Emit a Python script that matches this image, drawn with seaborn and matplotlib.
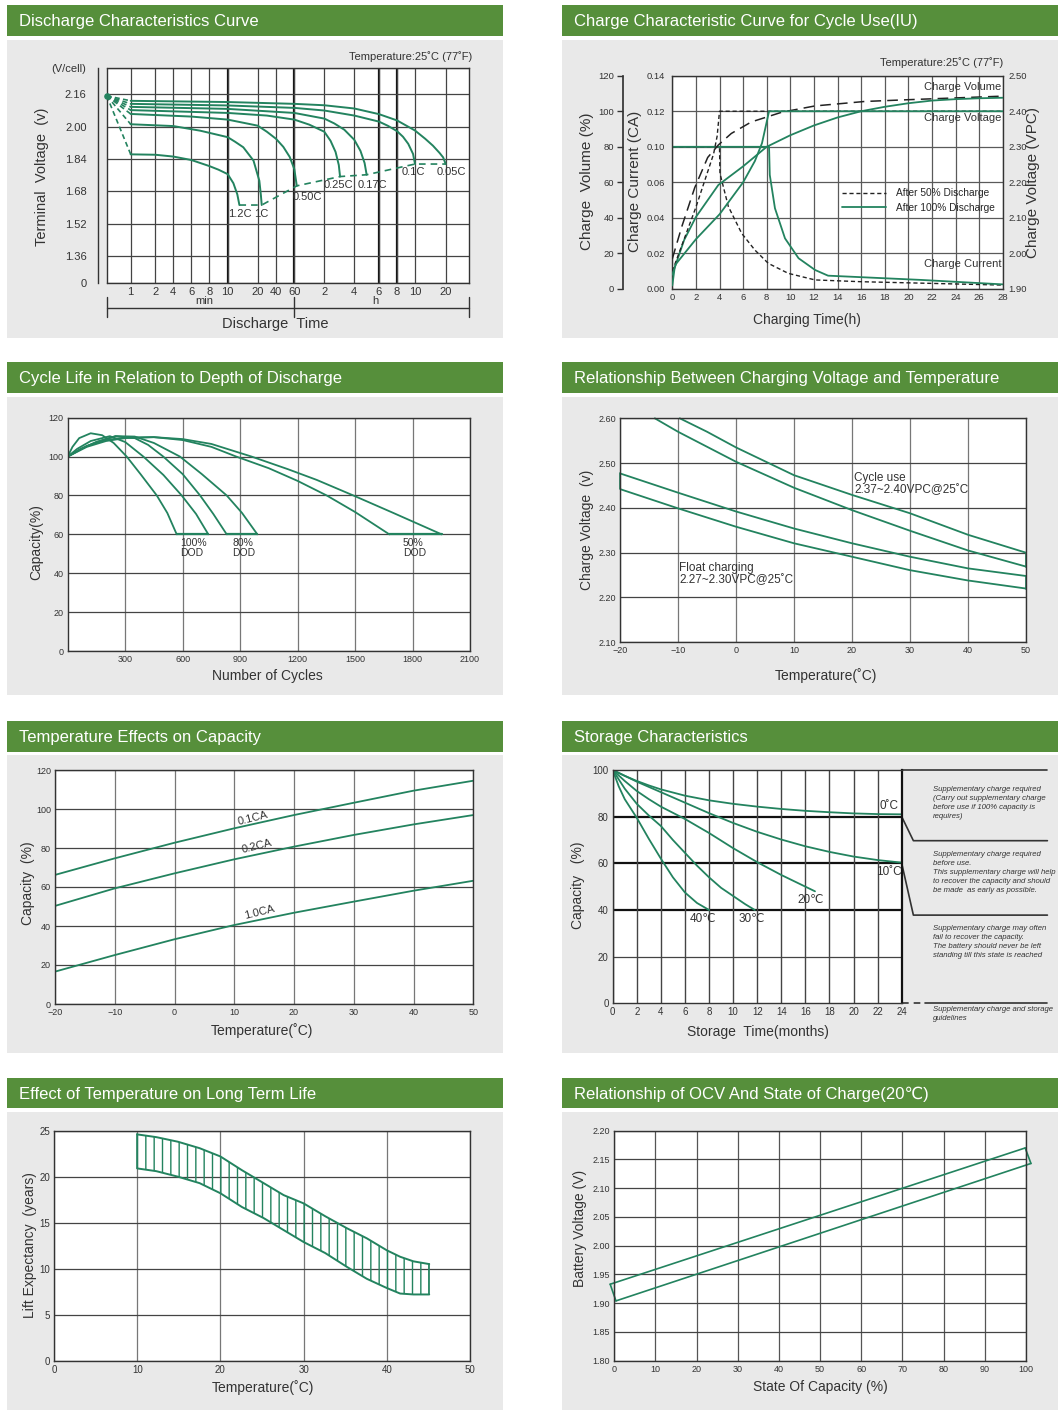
import numpy as np
import matplotlib
matplotlib.use("Agg")
import matplotlib.pyplot as plt
from matplotlib.lines import Line2D
from matplotlib.patches import Rectangle
import seaborn as sns

sns.set_theme(style="white")
plt.rcParams["font.family"] = ["Liberation Sans", "DejaVu Sans"]
plt.rcParams["hatch.linewidth"] = 1.0

GREEN = "#23835f"
HEAD = "#568f3b"
PANEL = "#e9e9e9"
GRID = "#444444"
TXT = "#333333"

W, H = 1060, 1418

# ---------------- data ----------------
# 1. discharge curves: time (min), voltage (V/cell)
t_005 = [1, 10, 60, 120, 240, 360, 480, 600, 800, 950, 1080, 1150, 1200]
v_005 = [2.128, 2.122, 2.113, 2.106, 2.09, 2.062, 2.031, 1.981, 1.94, 1.906, 1.87, 1.848, 1.815]
t_01 = [1, 10, 60, 120, 240, 360, 420, 480, 520, 555, 587, 600]
v_01 = [2.113, 2.105, 2.093, 2.08, 2.055, 2.025, 2.004, 1.978, 1.95, 1.915, 1.865, 1.815]
t_017 = [1, 10, 60, 120, 160, 200, 240, 270, 290, 300]
v_017 = [2.098, 2.088, 2.068, 2.04, 2.016, 1.985, 1.935, 1.88, 1.82, 1.762]
t_025 = [1, 10, 30, 60, 90, 120, 145, 165, 178, 183]
v_025 = [2.082, 2.068, 2.055, 2.035, 2.01, 1.975, 1.93, 1.875, 1.81, 1.753]
t_050 = [1, 6, 10, 20, 30, 40, 48, 55, 60, 65]
v_050 = [2.063, 2.05, 2.035, 2.005, 1.975, 1.94, 1.9, 1.85, 1.79, 1.707]
t_1c = [1, 4, 7, 10, 12.5, 15.2, 18.6, 21.8, 23.5, 24.4]
v_1c = [2.012, 2.003, 1.98, 1.948, 1.925, 1.898, 1.832, 1.732, 1.66, 1.612]
t_12c = [1, 2, 4, 6, 8, 9, 10, 11.9, 13.2, 13.9]
v_12c = [1.863, 1.861, 1.852, 1.835, 1.805, 1.787, 1.765, 1.72, 1.665, 1.612]
dis_rates = ["0.05C", "0.1C", "0.17C", "0.25C", "0.50C", "1C", "1.2C"]
dis_end_t = [13.9, 24.4, 65, 183, 300, 600, 1200]
dis_end_v = [1.612, 1.612, 1.707, 1.753, 1.762, 1.815, 1.815]
dis_origin = (0, 2.153)
dis_label_t = [1335, 587, 326, 175, 87, 24.4, 14]
dis_label_v = [1.776, 1.776, 1.711, 1.711, 1.651, 1.566, 1.566]
dis_ticks = [1, 2, 4, 6, 8, 10, 20, 40, 60, 120, 240, 360, 480, 600, 1200]
dis_ticklabels = ["1", "2", "4", "6", "8", "10", "20", "40", "60", "2", "4", "6", "8", "10", "20"]
dis_vticks = [1.226, 1.36, 1.52, 1.68, 1.84, 2.00, 2.16, 2.289]
dis_vlabels = ["0", "1.36", "1.52", "1.68", "1.84", "2.00", "2.16", "(V/cell)"]

# 2. charge characteristics (h; volume %, voltage VPC, current CA)
vol50_t = [0, 0.8, 1.9, 3.0, 3.9, 5.0, 6.7, 9.3, 12.1, 16.3, 20, 24, 28]
vol50 = [17, 35, 57, 74, 81, 87.5, 94, 99.5, 103, 105.5, 106.5, 107.5, 108.5]
vol100_t = [0, 0.2, 1, 2, 3.9, 6, 8, 10, 12, 14, 16, 18, 20, 22, 24, 26, 28]
vol100 = [2, 12, 27.5, 40.5, 58.5, 69, 80, 86.5, 92, 96.5, 100, 102.5, 104.5, 106, 106.8, 107.3, 107.6]
volt50_t = [0, 1, 2, 3, 3.5, 3.8, 4.0, 28]
volt50 = [1.95, 2.04, 2.13, 2.23, 2.28, 2.33, 2.40, 2.40]
volt100_t = [0, 0.3, 2, 4, 6, 7, 7.6, 8.2, 28]
volt100 = [1.94, 1.97, 2.04, 2.11, 2.20, 2.26, 2.31, 2.40, 2.40]
cur50_t = [0, 4, 4.04, 4.75, 5.88, 7, 8.14, 9.83, 12.1, 16, 28]
cur50 = [0.10, 0.10, 0.07, 0.0464, 0.0313, 0.0219, 0.0144, 0.0088, 0.0051, 0.0041, 0.0022]
cur100_t = [0, 8.2, 8.26, 8.7, 9.55, 10.7, 12.1, 13.2, 21.1, 28]
cur100 = [0.10, 0.10, 0.0684, 0.0454, 0.0285, 0.0173, 0.0107, 0.0075, 0.0051, 0.0026]
cur_ticks = [0, 0.02, 0.04, 0.06, 0.10, 0.12, 0.14]   # as printed (0.08 is skipped)
cur_labels = ["0.00", "0.02", "0.04", "0.06", "0.10", "0.12", "0.14"]

# 3. cycle life vs DOD (cycles, capacity %)
n100a = [0, 25, 60, 120, 180, 240, 308, 380, 465, 520, 569]
c100a = [100, 105, 109.5, 112, 111, 107, 100, 91, 80, 71, 60]
n100b = [0, 50, 120, 220, 300, 395, 500, 595, 670, 734]
c100b = [100, 104, 108, 110.5, 107.5, 100, 90.5, 80, 70.5, 60]
n80a = [0, 70, 150, 250, 350, 420, 499, 600, 691, 760, 830]
c80a = [100, 104, 107.5, 110.5, 109.5, 106, 100, 91, 80, 70.5, 60]
n80b = [0, 70, 150, 250, 350, 450, 586, 700, 830, 910, 990]
c80b = [100, 104, 107.5, 110.5, 110.3, 107, 100, 91, 80, 71, 60]
n50a = [0, 100, 200, 300, 450, 600, 750, 880, 1050, 1200, 1352, 1500, 1679]
c50a = [100, 105.5, 108.5, 109.8, 110, 108.5, 105, 100, 94, 87.5, 80, 71.5, 60]
n50b = [0, 100, 200, 300, 450, 600, 750, 960, 1150, 1300, 1491, 1700, 1952]
c50b = [100, 105, 108, 109.5, 110, 109, 106.5, 100, 93.5, 88, 80, 71, 60]
dod_labels = ["100%\nDOD", "80%\nDOD", "50%\nDOD"]
dod_label_n = [585, 858, 1749]

# 4. charging voltage vs temperature
cyc_up_t = [-9.7, -5, 0, 10, 20, 30, 40, 50]
cyc_up_v = [2.60, 2.570, 2.535, 2.473, 2.429, 2.388, 2.34, 2.30]
cyc_lo_t = [-14, -10, 0, 10, 20, 30, 40, 50]
cyc_lo_v = [2.60, 2.57, 2.503, 2.445, 2.395, 2.349, 2.305, 2.269]
flo_t = [-20, -10, 0, 10, 20, 30, 40, 50]
flo_up_v = [2.477, 2.434, 2.392, 2.354, 2.321, 2.291, 2.265, 2.248]
flo_lo_v = [2.442, 2.399, 2.358, 2.321, 2.291, 2.261, 2.238, 2.22]

# 5. temperature effects on capacity
tc_t = [-20, -10, 0, 10, 20, 30, 40, 50]
cap_01 = [66.2, 74.7, 82.7, 90.1, 96.9, 103.2, 109.4, 114.5]
cap_02 = [50.3, 59.3, 67.0, 74.2, 80.7, 86.7, 92.1, 96.9]
cap_10 = [16.6, 25.1, 33.2, 40.5, 46.8, 52.5, 58.1, 63.2]
rate_labels = ["0.1CA", "0.2CA", "1.0CA"]
rate_label_t = [13.1, 13.85, 14.2]
rate_label_c = [95.2, 80.7, 46.8]

# 6. storage characteristics (months, capacity %)
s0_t = [0, 1, 2, 3, 4, 6, 8, 10, 12, 14, 16, 18, 20, 22, 24]
s0_c = [100, 97.5, 95.3, 93.4, 91.7, 89, 87, 85.5, 84.3, 83.3, 82.5, 81.9, 81.4, 81.1, 81]
s10_t = [0, 2, 4, 6, 8, 10, 12, 14, 16, 18, 20, 22, 24]
s10_c = [100, 95, 90.5, 86, 81.5, 77.3, 73.5, 70.2, 67.3, 64.9, 62.9, 61.4, 60.3]
s20_t = [0, 1, 2, 3, 4, 6, 8, 10, 12, 14, 16, 16.8]
s20_c = [100, 95.3, 91, 87.5, 84.3, 79, 73, 66.5, 60.5, 55, 50, 48]
s30_t = [0, 1, 2, 3, 4, 5, 6, 7, 8, 9, 10, 11, 11.8]
s30_c = [100, 92, 85.5, 80.5, 76, 70, 64.5, 59, 54, 49.5, 46, 42.5, 40]
s40_t = [0, 0.5, 1, 2, 3, 4, 5, 6, 7, 8]
s40_c = [100, 93, 87.5, 79.5, 70.5, 62, 54, 47.5, 43, 40]
st_labels = ["0˚C", "10˚C", "20℃", "30℃", "40℃"]
st_label_t = [22.97, 22.9, 16.47, 11.55, 7.52]
st_label_c = [84.6, 56.4, 44.3, 36.1, 36.1]
guide_texts = [
    "Supplementary charge required\n(Carry out supplementary charge\nbefore use if 100% capacity is\nrequires)",
    "Supplementary charge required\nbefore use.\nThis supplementary charge will help\nto recover the capacity and should\nbe made  as early as possible.",
    "Supplementary charge may often\nfail to recover the capacity.\nThe battery should never be left\nstanding till this state is reached",
    "Supplementary charge and storage\nguidelines",
]

# 7. long term life (deg C, years)
life_t = [10, 12.3, 14.9, 17.5, 20, 22.6, 25.2, 27.6, 30, 32.6, 35.2, 37.6, 40, 41.6, 43.2, 45.1]
life_hi = [24.6, 24.3, 23.8, 23.1, 22.2, 20.7, 19.3, 18, 17.1, 15.7, 14.4, 13.3, 12, 11.3, 10.8, 10.5]
life_lo = [20.9, 20.6, 20, 19.3, 18.2, 16.7, 15.5, 14.2, 12.9, 11.7, 10.2, 8.9, 7.9, 7.3, 7.2, 7.2]

# 8. OCV vs state of charge
ocv_hi_x = [-1, 99.8]
ocv_hi_v = [1.933, 2.170]
ocv_lo_x = [0.4, 101.2]
ocv_lo_v = [1.904, 2.143]

# ---------------- helpers ----------------
fig = plt.figure(figsize=(W / 100, H / 100), dpi=100)
fig.patch.set_facecolor("white")


def add_ax(l, t, r, b):
    return fig.add_axes([l / W, 1 - b / H, (r - l) / W, (b - t) / H])


def ftext(x, y, s, **kw):
    kw.setdefault("color", TXT)
    fig.text(x / W, 1 - y / H, s, **kw)


def curve(ax, x, y, color=GREEN, lw=1.3, dashes=None, **kw):
    sns.lineplot(x=x, y=y, ax=ax, color=color, linewidth=lw, sort=False,
                 estimator=None, legend=False, **kw)
    if dashes:
        ax.lines[-1].set_dashes(dashes)


def style(ax, size=6.5, grid=True):
    ax.set_facecolor("white")
    for s in ax.spines.values():
        s.set_color("#333333")
        s.set_linewidth(1.0)
    ax.tick_params(length=0, labelsize=size, colors=TXT, pad=3)
    if grid:
        ax.grid(True, color=GRID, lw=0.9)
        ax.set_axisbelow(True)


# panel backgrounds and headers
ROWS = [(5, 36, 40, 338), (362, 393, 397, 695), (721, 752, 755, 1053), (1078, 1108, 1112, 1410)]
COLS = [(7, 503), (562, 1058)]
TITLES = [["Discharge Characteristics Curve", "Charge Characteristic Curve for Cycle Use(IU)"],
          ["Cycle Life in Relation to Depth of Discharge", "Relationship Between Charging Voltage and Temperature"],
          ["Temperature Effects on Capacity", "Storage Characteristics"],
          ["Effect of Temperature on Long Term Life", "Relationship of OCV And State of Charge(20℃)"]]
for i, (ht, hb, pt, pb) in enumerate(ROWS):
    for j, (cl, cr) in enumerate(COLS):
        fig.add_artist(Rectangle((cl / W, 1 - hb / H), (cr - cl) / W, (hb - ht) / H,
                                 transform=fig.transFigure, facecolor=HEAD, edgecolor="none", zorder=-10))
        fig.add_artist(Rectangle((cl / W, 1 - pb / H), (cr - cl) / W, (pb - pt) / H,
                                 transform=fig.transFigure, facecolor=PANEL, edgecolor="none", zorder=-10))
        ftext(cl + 12, (ht + hb) / 2 + 1, TITLES[i][j], color="white", fontsize=12, va="center")

# ---------------- 1. discharge ----------------
SCALE_MIN = [0, 1, 2, 4, 6, 8, 10, 20, 40, 60, 120, 240, 360, 480, 600, 1200, 1800]
SCALE_PX = [0, 24, 48.6, 66.6, 84.6, 102.6, 121, 151, 169.3, 187.6, 217.6, 247.6, 272.3, 290.3, 308.3, 339, 362.6]
ax1 = add_ax(106.7, 68.3, 469.3, 283)
ax1.set_xscale("function", functions=(lambda x: np.interp(x, SCALE_MIN, SCALE_PX),
                                      lambda p: np.interp(p, SCALE_PX, SCALE_MIN)))
style(ax1, size=8)
curves1 = [(t_005, v_005), (t_01, v_01), (t_017, v_017), (t_025, v_025),
           (t_050, v_050), (t_1c, v_1c), (t_12c, v_12c)]
for t, v in curves1:
    curve(ax1, t, v, lw=1.4)
    curve(ax1, [dis_origin[0], t[0]], [dis_origin[1], v[0]], lw=1.2, dashes=(3, 2))
curve(ax1, dis_end_t, dis_end_v, lw=1.2, dashes=(4, 3))
ax1.scatter([dis_origin[0]], [dis_origin[1]], s=14, color=GREEN, zorder=5, clip_on=False)
for lab, lt, lv in zip(dis_rates, dis_label_t, dis_label_v):
    ax1.text(lt, lv, lab, fontsize=8, ha="center", va="center", color=TXT)
for tk in [10, 60, 360, 480]:
    ax1.axvline(tk, color="#111111", lw=1.6, zorder=0.5)
ax1.axvline(0, color="#333333", lw=1.0, clip_on=False)
ax1.set_xticks(dis_ticks, dis_ticklabels)
ax1.set_yticks(dis_vticks, dis_vlabels)
ax1.set_xlim(0, 1800)
ax1.set_ylim(1.226, 2.289)
ax1.spines["left"].set_position(("outward", 6.5))
ax1.tick_params(axis="y", length=6, width=1, color="#333333", pad=2)
trans = ax1.get_xaxis_transform()
ax1.plot([0, 1800], [-0.116, -0.116], color="#333333", lw=1, transform=trans, clip_on=False)
for xb in [0, 60, 1800]:
    ax1.plot([xb, xb], [-0.065, -0.158], color="#333333", lw=1, transform=trans, clip_on=False)
ftext(204, 301, "min", fontsize=8, ha="center", va="center")
ftext(375, 301, "h", fontsize=8, ha="center", va="center")
ftext(275, 324, "Discharge  Time", fontsize=10.5, ha="center", va="center")
ftext(42, 177, "Terminal  Voltage  (v)", fontsize=10.5, ha="center", va="center", rotation=90)
ftext(472, 57, "Temperature:25˚C (77˚F)", fontsize=8, ha="right", va="center")

# ---------------- 2. charge characteristics ----------------
ax2 = add_ax(672.3, 75.7, 1002.7, 289)
ax2.set_yscale("function", functions=(lambda y: np.interp(y, cur_ticks, range(7)),
                                      lambda g: np.interp(g, range(7), cur_ticks)))
style(ax2, size=6.8)
ax2.grid(True, color="#5a5a5a", lw=0.9)
axv = ax2.twinx()
axr = ax2.twinx()
for a in (axv, axr):
    for s in a.spines.values():
        s.set_visible(False)
curve(ax2, cur50_t, cur50, color="#222222", lw=1.0, dashes=(3, 2))
curve(ax2, cur100_t, cur100, lw=1.3)
curve(axv, vol50_t, vol50, color="#222222", lw=1.1, dashes=(7, 4))
curve(axv, vol100_t, vol100, lw=1.3)
curve(axr, volt50_t, volt50, color="#222222", lw=1.0, dashes=(3, 2))
curve(axr, volt100_t, volt100, lw=1.3)
ax2.set_xlim(0, 28)
ax2.set_ylim(0, 0.14)
ax2.set_xticks(range(0, 29, 2))
ax2.set_yticks(cur_ticks, cur_labels)
ax2.tick_params(axis="y", pad=5)
axv.set_ylim(0, 120)
axv.set_yticks(range(0, 121, 20))
axv.yaxis.set_ticks_position("left")
axv.spines["left"].set_visible(True)
axv.spines["left"].set_color("#333333")
axv.spines["left"].set_position(("outward", 35.5))
axv.tick_params(axis="y", length=4.5, width=1, color="#333333", labelsize=6.8, colors=TXT, pad=2)
axr.set_ylim(1.9, 2.5)
axr.set_yticks([1.9, 2.0, 2.1, 2.2, 2.3, 2.4, 2.5], ["1.90", "2.00", "2.10", "2.20", "2.30", "2.40", "2.50"])
axr.tick_params(axis="y", length=0, labelsize=6.8, colors=TXT, pad=4)
handles = [Line2D([], [], color="#222222", lw=1.0, dashes=(3, 2)), Line2D([], [], color=GREEN, lw=1.3)]
axr.legend(handles, ["After 50% Discharge", "After 100% Discharge"], loc="upper left",
           bbox_to_anchor=(0.515, 0.472), frameon=False, fontsize=7.3, handlelength=4.3,
           borderpad=0, borderaxespad=0, labelspacing=0.45, handletextpad=1.0)
ftext(1003, 62.3, "Temperature:25˚C (77˚F)", fontsize=8, ha="right", va="center")
ftext(1001, 86.7, "Charge Volume", fontsize=8, ha="right", va="center")
ftext(1001, 118.3, "Charge Voltage", fontsize=8, ha="right", va="center")
ftext(1001, 264, "Charge Current", fontsize=8, ha="right", va="center")
ftext(586.7, 181, "Charge  Volume (%)", fontsize=11, ha="center", va="center", rotation=90)
ftext(635, 181, "Charge Current (CA)", fontsize=11, ha="center", va="center", rotation=90)
ftext(1033, 182, "Charge Voltage (VPC)", fontsize=11, ha="center", va="center", rotation=90)
ftext(806.7, 320, "Charging Time(h)", fontsize=10, ha="center", va="center")

# ---------------- 3. cycle life ----------------
ax3 = add_ax(67.7, 417.7, 470, 651)
style(ax3)
ax3.xaxis.grid(True, color="#777777", lw=0.9)
for n, c in [(n100a, c100a), (n100b, c100b), (n80a, c80a), (n80b, c80b), (n50a, c50a), (n50b, c50b)]:
    curve(ax3, n, c, lw=1.3)
for n0, n1 in [(n100a[-1], n100b[-1]), (n80a[-1], n80b[-1]), (n50a[-1], n50b[-1])]:
    curve(ax3, [n0, n1], [60, 60], lw=1.6)
for lab, ln in zip(dod_labels, dod_label_n):
    ax3.text(ln, 53, lab, fontsize=7.5, ha="left", va="center", color=TXT, linespacing=1.1)
ax3.set_xlim(0, 2100)
ax3.set_ylim(0, 120)
ax3.set_xticks(range(300, 2101, 300))
ax3.set_yticks(range(0, 121, 20))
ftext(36.7, 541.7, "Capacity(%)", fontsize=10, ha="center", va="center", rotation=90)
ftext(267.7, 676, "Number of Cycles", fontsize=10, ha="center", va="center")

# ---------------- 4. charging voltage vs temperature ----------------
ax4 = add_ax(620, 418.3, 1026, 642.3)
style(ax4)
ax4.xaxis.grid(True, color="#777777", lw=0.9)
curve(ax4, cyc_up_t, cyc_up_v, lw=1.3, clip_on=False)
curve(ax4, cyc_lo_t, cyc_lo_v, lw=1.3, clip_on=False)
curve(ax4, flo_t, flo_up_v, lw=1.3)
curve(ax4, flo_t, flo_lo_v, lw=1.3)
curve(ax4, [50, 50], [cyc_up_v[-1], cyc_lo_v[-1]], lw=1.2, clip_on=False)
curve(ax4, [50, 50], [flo_up_v[-1], flo_lo_v[-1]], lw=1.2, clip_on=False)
curve(ax4, [-20, -20], [flo_up_v[0], flo_lo_v[0]], lw=1.2, clip_on=False)
ax4.text(20.34, 2.453, "Cycle use\n2.37~2.40VPC@25˚C", fontsize=8.5, ha="left", va="center",
         color=TXT, linespacing=1.0)
ax4.text(-9.83, 2.2525, "Float charging\n2.27~2.30VPC@25˚C", fontsize=8.5, ha="left", va="center",
         color=TXT, linespacing=1.0)
ax4.set_xlim(-20, 50)
ax4.set_ylim(2.10, 2.60)
ax4.set_xticks(range(-20, 51, 10), ["−20", "−10", "0", "10", "20", "30", "40", "50"])
ax4.set_yticks([2.1, 2.2, 2.3, 2.4, 2.5, 2.6], ["2.10", "2.20", "2.30", "2.40", "2.50", "2.60"])
ax4.set_yticks([2.15, 2.25, 2.35, 2.45, 2.55], minor=True)
ax4.tick_params(axis="y", which="minor", direction="in", length=3, width=0.8, color="#555555")
ftext(586.7, 530, "Charge Voltage  (v)", fontsize=10, ha="center", va="center", rotation=90)
ftext(825.7, 676, "Temperature(˚C)", fontsize=10, ha="center", va="center")

# ---------------- 5. temperature effects on capacity ----------------
ax5 = add_ax(55, 770, 473.3, 1004)
style(ax5)
ax5.xaxis.grid(True, color="#777777", lw=0.9)
for c in (cap_01, cap_02, cap_10):
    curve(ax5, tc_t, c, lw=1.3)
for lab, lt, lc in zip(rate_labels, rate_label_t, rate_label_c):
    ax5.text(lt, lc, lab, fontsize=8, ha="center", va="center", rotation=14, color=TXT)
ax5.set_xlim(-20, 50)
ax5.set_ylim(0, 120)
ax5.set_xticks(range(-20, 51, 10))
ax5.set_yticks(range(0, 121, 20))
ftext(28.3, 883, "Capacity  (%)", fontsize=10, ha="center", va="center", rotation=90)
ftext(262.3, 1030.7, "Temperature(˚C)", fontsize=10, ha="center", va="center")

# ---------------- 6. storage ----------------
ax6 = add_ax(612.7, 770, 901.7, 1003.3)
style(ax6)
ax6.xaxis.grid(True, color="#444444", lw=1.0)
ax6.yaxis.grid(False)
ax6.axhline(20, color="#444444", lw=0.9, zorder=0.5)
for yv in [40, 60, 80]:
    ax6.axhline(yv, color="#111111", lw=1.6, zorder=0.5)
for t, c in [(s0_t, s0_c), (s10_t, s10_c), (s20_t, s20_c), (s30_t, s30_c), (s40_t, s40_c)]:
    curve(ax6, t, c, lw=1.3)
for lab, lt, lc in zip(st_labels, st_label_t, st_label_c):
    ax6.text(lt, lc, lab, fontsize=8.5, ha="center", va="center", color=TXT)
ax6.spines["right"].set_linewidth(1.6)
ax6.spines["right"].set_color("#111111")
gk = dict(color="#333333", lw=1.2, clip_on=False)
ax6.plot([24, 36.1], [100, 100], **gk)
ax6.plot([24, 24.97, 36.1], [80, 69.7, 69.7], **gk)
ax6.plot([24, 24.97, 36.1], [60, 37.8, 37.8], **gk)
ax6.plot([24, 25.94], [0, 0], dashes=(4, 3), **gk)
ax6.plot([25.94, 36.1], [0, 0], **gk)
for s, yy in zip(guide_texts, [786, 851, 925, 1006]):
    ftext(932.7, yy, s, fontsize=5.6, ha="left", va="top", style="italic", linespacing=1.4)
ax6.set_xlim(0, 24)
ax6.set_ylim(0, 100)
ax6.set_xticks(range(0, 25, 2))
ax6.set_yticks(range(0, 101, 20))
ax6.tick_params(labelsize=7)
ftext(578.3, 885, "Capacity   (%)", fontsize=10, ha="center", va="center", rotation=90)
ftext(758.3, 1031.7, "Storage  Time(months)", fontsize=10, ha="center", va="center")

# ---------------- 7. long term life ----------------
ax7 = add_ax(54, 1130.7, 470, 1360.7)
style(ax7, size=7)
ax7.xaxis.grid(True, color="#777777", lw=0.9)
ax7.fill_between(life_t, life_lo, life_hi, facecolor="none", edgecolor=GREEN, hatch="||", lw=0)
curve(ax7, life_t, life_hi, lw=1.4)
curve(ax7, life_t, life_lo, lw=1.4)
curve(ax7, [life_t[0], life_t[0]], [life_lo[0], life_hi[0]], lw=1.2)
curve(ax7, [life_t[-1], life_t[-1]], [life_lo[-1], life_hi[-1]], lw=1.2)
ax7.set_xlim(0, 50)
ax7.set_ylim(0, 25)
ax7.set_xticks(range(0, 51, 10))
ax7.set_yticks(range(0, 26, 5))
ftext(30, 1245, "Lift Expectancy  (years)", fontsize=10, ha="center", va="center", rotation=90)
ftext(263.3, 1387.3, "Temperature(˚C)", fontsize=10, ha="center", va="center")

# ---------------- 8. OCV ----------------
ax8 = add_ax(614.3, 1130.7, 1026, 1360.7)
style(ax8)
ax8.xaxis.grid(True, color="#555555", lw=0.9)
curve(ax8, ocv_hi_x, ocv_hi_v, lw=1.2, clip_on=False)
curve(ax8, ocv_lo_x, ocv_lo_v, lw=1.2, clip_on=False)
curve(ax8, [ocv_hi_x[0], ocv_lo_x[0]], [ocv_hi_v[0], ocv_lo_v[0]], lw=1.2, clip_on=False)
curve(ax8, [ocv_hi_x[-1], ocv_lo_x[-1]], [ocv_hi_v[-1], ocv_lo_v[-1]], lw=1.2, clip_on=False)
ax8.set_xlim(0, 100)
ax8.set_ylim(1.80, 2.20)
ax8.set_xticks(range(0, 101, 10))
yt8 = [1.80, 1.85, 1.90, 1.95, 2.00, 2.05, 2.10, 2.15, 2.20]
ax8.set_yticks(yt8, [f"{v:.2f}" for v in yt8])
ftext(580, 1228, "Battery Voltage (V)", fontsize=10, ha="center", va="center", rotation=90)
ftext(820, 1387.3, "State Of Capacity (%)", fontsize=10, ha="center", va="center")

fig.savefig("out.png", dpi=100, facecolor="white")
